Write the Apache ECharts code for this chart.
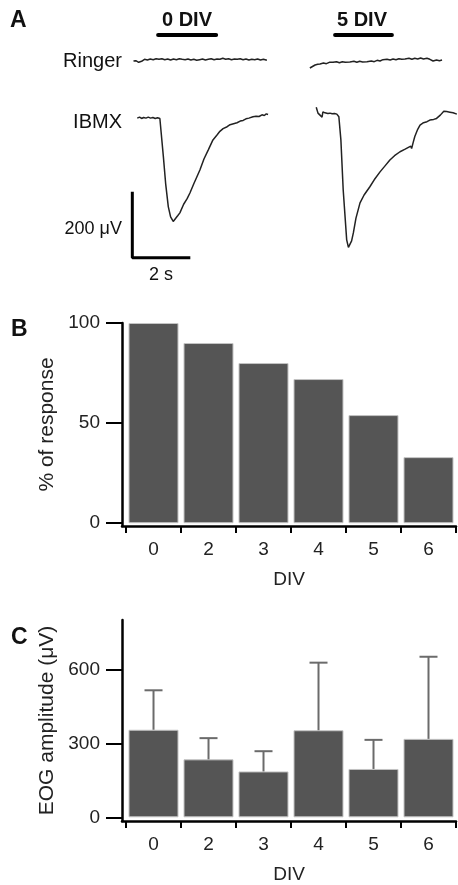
<!DOCTYPE html>
<html>
<head>
<meta charset="utf-8">
<script src="https://cdn.jsdelivr.net/npm/echarts@6/dist/echarts.min.js"></script>
<style>
  html, body { margin: 0; padding: 0; background: #fff; }
  #chart { width: 458px; height: 885px; }
</style>
</head>
<body>
<div id="chart"></div>
<script>
// panel A traces: [time (s), amplitude (uV)]
const ringer0 = [[-0.13,-3],[-0.05,-2],[0.05,-7],[0.15,-4],[0.25,2],[0.35,0],[0.45,3],[0.55,1],[0.65,4],[0.75,2],[0.85,4],[0.95,1],[1.05,3],[1.15,0],[1.25,3],[1.35,1],[1.45,4],[1.55,2],[1.65,1],[1.75,3],[1.85,0],[1.95,2],[2.05,-1],[2.15,1],[2.25,3],[2.35,0],[2.45,2],[2.55,4],[2.65,1],[2.75,3],[2.85,2],[2.95,5],[3.05,2],[3.15,4],[3.25,1],[3.35,3],[3.45,2],[3.55,4],[3.65,1],[3.75,3],[3.85,0],[3.95,2],[4.05,1],[4.15,3],[4.25,0],[4.35,2],[4.47,-1]];
const ibmx0 = [[0,-1],[0.08,2],[0.15,-2],[0.22,1],[0.3,-1],[0.38,2],[0.46,-1],[0.54,1],[0.62,-2],[0.7,0],[0.78,-2],[0.84,-4],[0.9,-117],[0.98,-200],[1.07,-269],[1.15,-300],[1.24,-314],[1.3,-308],[1.4,-296],[1.47,-288],[1.6,-262],[1.72,-245],[1.82,-227],[1.95,-200],[2.05,-180],[2.16,-158],[2.3,-125],[2.45,-97],[2.61,-67],[2.75,-52],[2.85,-41],[2.96,-33],[3.1,-27],[3.2,-21],[3.32,-18],[3.44,-15],[3.55,-10],[3.65,-8],[3.75,-3],[3.85,-1],[3.99,3],[4.1,5],[4.2,4],[4.3,9],[4.38,7],[4.45,12],[4.51,10]];
const ringer5 = [[-0.22,-24],[-0.04,-15],[0.05,-13],[0.13,-12],[0.25,-9],[0.35,-11],[0.45,-7],[0.58,-7],[0.7,-5],[0.8,-8],[0.9,-5],[1.0,-7],[1.16,-6],[1.3,-4],[1.4,-7],[1.5,-4],[1.6,-6],[1.75,-5],[1.9,-3],[2.0,-5],[2.1,-1],[2.2,-3],[2.3,1],[2.44,2],[2.55,0],[2.65,3],[2.75,1],[2.85,4],[2.95,2],[3.06,3],[3.2,5],[3.3,2],[3.4,5],[3.5,3],[3.6,6],[3.7,3],[3.82,5],[3.92,2],[4.03,-3],[4.15,0],[4.25,-2],[4.34,0]];
const ibmx5 = [[0,20],[0.06,2],[0.13,-4],[0.2,-10],[0.23,6],[0.3,3],[0.4,1],[0.47,2],[0.55,0],[0.63,1],[0.71,-1],[0.78,-9],[0.85,-79],[0.93,-231],[1.05,-382],[1.11,-405],[1.16,-401],[1.22,-385],[1.28,-361],[1.37,-316],[1.51,-270],[1.65,-246],[1.85,-221],[2.0,-200],[2.2,-176],[2.38,-157],[2.54,-140],[2.7,-127],[2.89,-115],[3.05,-108],[3.26,-98],[3.29,-105],[3.34,-88],[3.4,-69],[3.5,-47],[3.58,-34],[3.7,-27],[3.82,-24],[3.92,-19],[4.05,-17],[4.15,-14],[4.28,-4],[4.4,8],[4.5,7],[4.61,5],[4.72,3],[4.85,-1]];
const stim0 = [0.72, 2.72];
const stim5 = [0.65, 2.61];
const scaleBarT = [-0.17, 1.83];   // 2 s
const scaleBarV = [-224, -424];    // 200 uV

// panels B and C
const divCats = ['0', '2', '3', '4', '5', '6'];
const pctResponse = [100, 90, 80, 72, 54, 33];
const pctTicks = [0, 50, 100];
const eogMean = [355, 235, 186, 353, 196, 318];
const eogSem = [160, 86, 82, 274, 118, 333];
const eogTicks = [0, 300, 600];

const FONT = 'Liberation Sans, Arial, sans-serif';
const chart = echarts.init(document.getElementById('chart'));

function hiddenAxis(grid, min, max) {
  return { type: 'value', gridIndex: grid, min: min, max: max, show: false };
}

function traceSeries(grid, data) {
  return {
    type: 'line', xAxisIndex: grid, yAxisIndex: grid, data: data,
    showSymbol: false, smooth: false, silent: true,
    lineStyle: { color: '#222', width: 1.5 }
  };
}

function stimSeries(grid, span) {
  return {
    type: 'line', xAxisIndex: grid, yAxisIndex: grid,
    data: [[span[0], 0.5], [span[1], 0.5]],
    showSymbol: false, silent: true,
    lineStyle: { color: '#000', width: 4, cap: 'round' }
  };
}

// category slots sit at integer positions on a value axis, so the
// x axis line can run all the way to the y axis like in the figure
const slotIdx = divCats.map((c, i) => i);
const slotEdges = divCats.map((c, i) => i - 0.5).concat([divCats.length - 0.5]);

function barAxes(grid, min, max, ticks, name, gap) {
  const x = {
    type: 'value', gridIndex: grid, min: -0.573, max: divCats.length - 0.5,
    name: 'DIV', nameLocation: 'middle', nameGap: 44,
    nameTextStyle: { fontFamily: FONT, fontSize: 19, color: '#222' },
    splitLine: { show: false },
    axisLine: { onZero: false, lineStyle: { color: '#000', width: 2.5 } },
    axisTick: { length: 7, customValues: slotEdges, lineStyle: { color: '#000', width: 2 } },
    axisLabel: {
      margin: 14, customValues: slotIdx, fontFamily: FONT, fontSize: 19, color: '#222',
      formatter: v => divCats[Math.round(v)]
    }
  };
  const y = {
    type: 'value', gridIndex: grid, min: min, max: max,
    name: name, nameLocation: 'middle', nameGap: gap, nameRotate: 90,
    nameTextStyle: { fontFamily: FONT, fontSize: 21, color: '#222' },
    splitLine: { show: false },
    axisLine: { show: true, onZero: false, lineStyle: { color: '#000', width: 2.5 } },
    axisTick: { show: true, length: 16, customValues: ticks, lineStyle: { color: '#000', width: 2 } },
    axisLabel: { margin: 22, customValues: ticks, fontFamily: FONT, fontSize: 19, color: '#222' }
  };
  return [x, y];
}

const bAxes = barAxes(6, -1.4, 100, pctTicks, '% of response', 64);
const cAxes = barAxes(7, -15, 800, eogTicks, 'EOG amplitude (\u03bcV)', 64);

const barStyle = { color: '#555555', borderColor: '#c4c4c4', borderWidth: 1 };

const textStyle = (x, y, text, size, weight, align) => ({
  type: 'text', x: x, y: y,
  style: { text: text, font: weight + ' ' + size + 'px ' + FONT, fill: '#111', textAlign: align, textVerticalAlign: 'middle' }
});

const option = {
  animation: false,
  backgroundColor: '#fff',
  grid: [
    { left: 130, width: 145, top: 30, height: 10 },
    { left: 130, width: 145, top: 50, height: 20 },
    { left: 130, width: 145, top: 98, height: 165 },
    { left: 309, width: 149, top: 30, height: 10 },
    { left: 309, width: 149, top: 50, height: 20 },
    { left: 309, width: 149, top: 94, height: 165 },
    { left: 122, width: 334, top: 323, height: 203 },
    { left: 122, width: 334, top: 620, height: 202.5 }
  ],
  xAxis: [
    hiddenAxis(0, -0.25, 4.75), hiddenAxis(1, -0.25, 4.75), hiddenAxis(2, -0.25, 4.75),
    hiddenAxis(3, -0.25, 4.89), hiddenAxis(4, -0.25, 4.89), hiddenAxis(5, -0.25, 4.89),
    bAxes[0], cAxes[0]
  ],
  yAxis: [
    hiddenAxis(0, 0, 1), hiddenAxis(1, -30, 30), hiddenAxis(2, -440, 60),
    hiddenAxis(3, 0, 1), hiddenAxis(4, -30, 30), hiddenAxis(5, -440, 60),
    bAxes[1], cAxes[1]
  ],
  series: [
    stimSeries(0, stim0),
    traceSeries(1, ringer0),
    traceSeries(2, ibmx0),
    {
      type: 'line', xAxisIndex: 2, yAxisIndex: 2, showSymbol: false, silent: true,
      data: [[scaleBarT[0], scaleBarV[0]], [scaleBarT[0], scaleBarV[1]], [scaleBarT[1], scaleBarV[1]]],
      lineStyle: { color: '#000', width: 3 }
    },
    stimSeries(3, stim5),
    traceSeries(4, ringer5),
    traceSeries(5, ibmx5),
    {
      type: 'bar', xAxisIndex: 6, yAxisIndex: 6, barWidth: 50,
      data: pctResponse.map((v, i) => [i, v]),
      itemStyle: barStyle
    },
    {
      type: 'bar', xAxisIndex: 7, yAxisIndex: 7, barWidth: 50,
      data: eogMean.map((v, i) => [i, v]),
      itemStyle: barStyle
    },
    {
      type: 'custom', xAxisIndex: 7, yAxisIndex: 7, z: 5,
      data: eogMean.map((m, i) => [i, m, m + eogSem[i]]),
      encode: { x: 0, y: [1, 2] },
      renderItem: function (params, api) {
        const base = api.coord([api.value(0), api.value(1)]);
        const top = api.coord([api.value(0), api.value(2)]);
        const st = { stroke: '#6b6b6b', lineWidth: 2 };
        return {
          type: 'group',
          children: [
            { type: 'line', shape: { x1: base[0], y1: base[1], x2: top[0], y2: top[1] }, style: st },
            { type: 'line', shape: { x1: top[0] - 9, y1: top[1], x2: top[0] + 9, y2: top[1] }, style: st }
          ]
        };
      }
    }
  ],
  graphic: [
    textStyle(10, 21, 'A', 23, 'bold', 'left'),
    textStyle(11, 330, 'B', 23, 'bold', 'left'),
    textStyle(11, 638, 'C', 23, 'bold', 'left'),
    textStyle(187, 20, '0 DIV', 20, 'bold', 'center'),
    textStyle(362, 20, '5 DIV', 20, 'bold', 'center'),
    textStyle(122, 61, 'Ringer', 20, 'normal', 'right'),
    textStyle(122, 122, 'IBMX', 20, 'normal', 'right'),
    textStyle(122, 229, '200 \u03bcV', 18, 'normal', 'right'),
    textStyle(161, 275, '2 s', 18, 'normal', 'center')
  ]
};

chart.setOption(option);
</script>
</body>
</html>
